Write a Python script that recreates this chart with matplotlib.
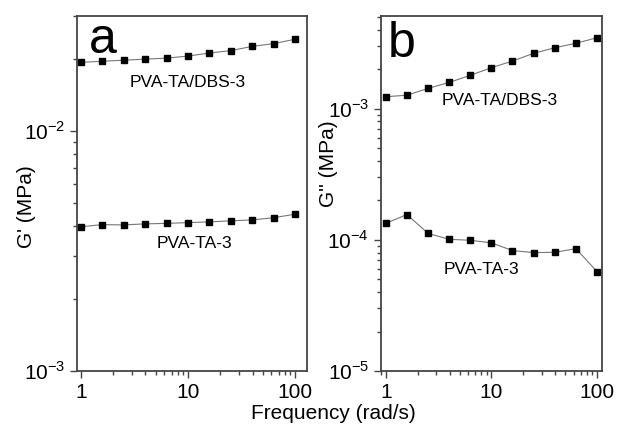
"""Frequency sweeps: storage (a) and loss (b) modulus of PVA-TA-3 and PVA-TA/DBS-3."""
import matplotlib

matplotlib.use("Agg")
import matplotlib.pyplot as plt
from matplotlib.ticker import LogLocator, NullFormatter

plt.rcParams["font.family"] = ["Liberation Sans", "DejaVu Sans"]
plt.rcParams["mathtext.fontset"] = "custom"
plt.rcParams["mathtext.rm"] = "Liberation Sans"

freq = [1, 1.58, 2.51, 3.98, 6.31, 10, 15.8, 25.1, 39.8, 63.1, 100]

# G' (MPa)
g1_dbs = [0.0193, 0.0195, 0.0197, 0.0199, 0.0201, 0.0205, 0.0211, 0.0216, 0.0225, 0.0231, 0.0241]
g1_ta = [0.00399, 0.00407, 0.00406, 0.0041, 0.00412, 0.00415, 0.00418, 0.00422, 0.00426, 0.00435, 0.0045]

# G'' (MPa)
g2_dbs = [0.001235, 0.00127, 0.00143, 0.00159, 0.0018, 0.00206, 0.00231, 0.00265, 0.00292, 0.00316, 0.00348]
g2_ta = [1.34e-4, 1.56e-4, 1.12e-4, 1.01e-4, 0.993e-4, 0.949e-4, 0.829e-4, 0.80e-4, 0.804e-4, 0.858e-4, 0.573e-4]

SPINE = "#444444"


def style(ax, ylim, yticks, ylabels):
    ax.set_xscale("log")
    ax.set_yscale("log")
    ax.set_ylim(*ylim)
    ax.set_xticks([1, 10, 100])
    ax.set_xticklabels(["1", "10", "100"])
    ax.set_yticks(yticks)
    ax.set_yticklabels(ylabels)
    ax.xaxis.set_minor_locator(LogLocator(base=10, subs=range(2, 10)))
    ax.yaxis.set_minor_locator(LogLocator(base=10, subs=range(2, 10)))
    ax.xaxis.set_minor_formatter(NullFormatter())
    ax.yaxis.set_minor_formatter(NullFormatter())
    ax.tick_params(which="both", direction="out", top=False, right=False,
                   color=SPINE, labelsize=15, width=1.0)
    ax.tick_params(which="major", length=5)
    ax.tick_params(which="minor", length=3)
    for s in ax.spines.values():
        s.set_color(SPINE)
        s.set_linewidth(1.3)


def series(ax, y):
    ax.plot(freq, y, color="#777777", lw=0.8, marker="s", ms=5,
            mfc="black", mec="black")


fig = plt.figure(figsize=(6.17, 4.29), dpi=100)
ax1 = fig.add_axes([0.1248, 0.1352, 0.3728, 0.8275])
ax2 = fig.add_axes([0.6175, 0.1352, 0.3582, 0.8275])

series(ax1, g1_dbs)
series(ax1, g1_ta)
ax1.set_xlim(0.917, 129)
style(ax1, (1e-3, 0.0301), [1e-3, 1e-2], [r"$10^{-3}$", r"$10^{-2}$"])
ax1.set_ylabel("G' (MPa)", fontsize=15)
ax1.yaxis.set_label_coords(-0.18, 0.462)
ax1.text(0.052, 0.896, "a", transform=ax1.transAxes, fontsize=36, va="baseline", ha="left")
ax1.text(0.483, 0.814, "PVA-TA/DBS-3", transform=ax1.transAxes, fontsize=12.5, ha="center", va="center")
ax1.text(0.509, 0.36, "PVA-TA-3", transform=ax1.transAxes, fontsize=12.5, ha="center", va="center")

series(ax2, g2_dbs)
series(ax2, g2_ta)
ax2.set_xlim(0.897, 111.5)
style(ax2, (1e-5, 0.0051), [1e-5, 1e-4, 1e-3], [r"$10^{-5}$", r"$10^{-4}$", r"$10^{-3}$"])
ax2.set_ylabel("G'' (MPa)", fontsize=15)
ax2.yaxis.set_label_coords(-0.195, 0.585)
ax2.text(0.03, 0.885, "b", transform=ax2.transAxes, fontsize=36, va="baseline", ha="left")
ax2.text(0.276, 0.763, "PVA-TA/DBS-3", transform=ax2.transAxes, fontsize=12.5, ha="left", va="center")
ax2.text(0.285, 0.285, "PVA-TA-3", transform=ax2.transAxes, fontsize=12.5, ha="left", va="center")

fig.text(0.54, 0.037, "Frequency (rad/s)", fontsize=15, ha="center", va="center")

fig.savefig("out.png", dpi=100)
